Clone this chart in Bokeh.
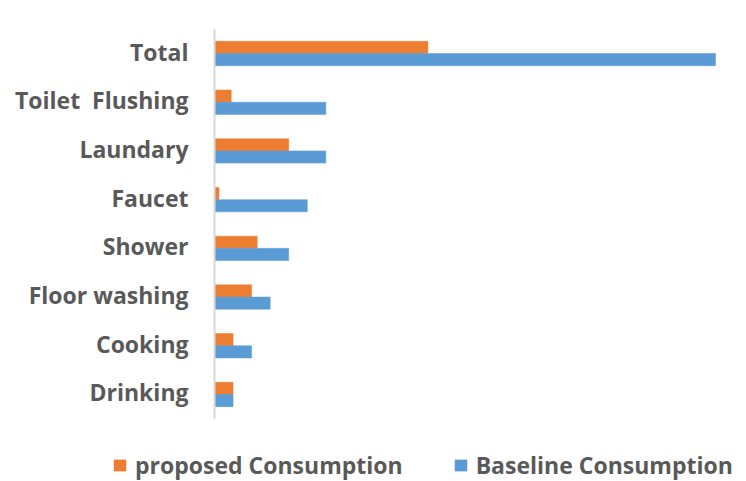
from bokeh.plotting import figure
from bokeh.models import ColumnDataSource, Range1d, Legend, LegendItem
from bokeh.transform import dodge
from bokeh.core.properties import value
from bokeh.embed import file_html
from bokeh.resources import INLINE

# ---- data (bottom to top) ----
categories = ['Drinking', 'Cooking', 'Floor washing', 'Shower', 'Faucet',
              'Laundary', 'Toilet\u00a0\u00a0Flushing', 'Total']
proposed = [5, 5, 10, 11.5, 1.2, 20, 4.5, 57.5]
baseline = [5, 10, 15, 20, 25, 30, 30, 135]
series_names = ["proposed Consumption", "Baseline Consumption"]

ORANGE = "#ED7D31"
BLUE = "#5B9BD5"
TEXT = "#595959"
AXIS = "#D9D9D9"
FONT = "Open Sans"

W, H = 746, 481
# layout of the plotting area (pixels)
AXIS_X = 214.0          # screen x of the value 0
PX_PER_UNIT = 3.711     # horizontal scale
TOP_CAT_Y = 53.0        # screen y of the top category centre
CAT_STEP = 48.71        # pixels per category

n = len(categories)
pos = list(range(n))
x_start = -AXIS_X / PX_PER_UNIT
x_end = (W - AXIS_X) / PX_PER_UNIT
y_end = (n - 1) + TOP_CAT_Y / CAT_STEP
y_start = (n - 1) - (H - TOP_CAT_Y) / CAT_STEP

source = ColumnDataSource(dict(pos=pos, cat=categories, proposed=proposed, baseline=baseline))

p = figure(width=W, height=H, output_backend="svg", toolbar_location=None,
           x_range=Range1d(x_start, x_end), y_range=Range1d(y_start, y_end),
           min_border_left=0, min_border_right=0, min_border_top=0, min_border_bottom=0)
p.outline_line_color = None
p.axis.visible = False
p.grid.visible = False

r1 = p.hbar(y=dodge('pos', 0.125), right='proposed', left=0, height=0.25,
            source=source, fill_color=ORANGE, line_color=ORANGE, line_width=0.5)
r2 = p.hbar(y=dodge('pos', -0.125), right='baseline', left=0, height=0.25,
            source=source, fill_color=BLUE, line_color=BLUE, line_width=0.5)

# category axis line
p.segment(x0=[0], x1=[0], y0=[-0.5], y1=[n - 0.5], line_color=AXIS, line_width=2)

# category labels
p.text(x=0, y='pos', text='cat', source=source, x_offset=-26, y_offset=-2,
       text_align="right", text_baseline="middle",
       text_font=value(FONT), text_font_size="23px", text_font_style="bold",
       text_color=TEXT)

legend = Legend(items=[LegendItem(label=series_names[0], renderers=[r1]),
                       LegendItem(label=series_names[1], renderers=[r2])],
                orientation="horizontal", location=(112, 0),
                glyph_width=15, glyph_height=14, label_standoff=8, spacing=50,
                label_text_font=FONT, label_text_font_size="23px",
                label_text_font_style="bold", label_text_color=TEXT,
                border_line_color=None, background_fill_alpha=0,
                padding=0, margin=0)
p.add_layout(legend, "center")

open("out.html", "w").write(file_html(p, INLINE))
